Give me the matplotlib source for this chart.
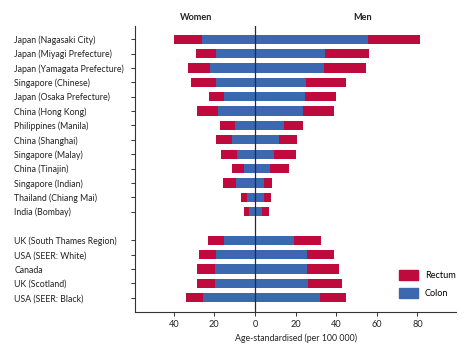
import matplotlib
matplotlib.use("Agg")
import matplotlib.pyplot as plt
import matplotlib.transforms as mtransforms
from matplotlib.patches import Patch

plt.rcParams["font.family"] = ["Lato", "DejaVu Sans"]

registries = [
    "Japan (Nagasaki City)",
    "Japan (Miyagi Prefecture)",
    "Japan (Yamagata Prefecture)",
    "Singapore (Chinese)",
    "Japan (Osaka Prefecture)",
    "China (Hong Kong)",
    "Philippines (Manila)",
    "China (Shanghai)",
    "Singapore (Malay)",
    "China (Tinajin)",
    "Singapore (Indian)",
    "Thailand (Chiang Mai)",
    "India (Bombay)",
    "UK (South Thames Region)",
    "USA (SEER: White)",
    "Canada",
    "UK (Scotland)",
    "USA (SEER: Black)",
]
# row slots, one empty slot between the two groups
positions = list(range(13)) + list(range(14, 19))

women_colon = [26.3, 19.2, 22.0, 19.2, 15.3, 18.2, 9.9, 11.2, 8.7, 5.4, 9.2, 3.8, 2.8,
               15.1, 19.2, 19.5, 19.5, 25.5]
women_total = [39.8, 29.2, 33.0, 31.7, 22.5, 28.4, 17.2, 19.4, 16.7, 11.3, 15.9, 6.9, 5.6,
               23.0, 27.6, 28.4, 28.4, 33.8]
men_colon = [55.7, 34.5, 34.0, 25.1, 24.8, 23.5, 14.3, 11.8, 9.4, 7.4, 4.6, 4.6, 3.4,
             19.0, 25.6, 25.6, 26.1, 32.2]
men_total = [81.3, 56.0, 54.5, 44.7, 39.7, 38.9, 23.8, 20.5, 20.2, 16.9, 8.5, 8.0, 6.9,
             32.7, 38.9, 41.5, 42.7, 45.0]

women_rectum = [t - c for t, c in zip(women_total, women_colon)]
men_rectum = [t - c for t, c in zip(men_total, men_colon)]

RED = "#BE0A3C"
BLUE = "#3B68AE"
FS = 6.3

fig = plt.figure(figsize=(4.74, 3.56), dpi=100)
ax = fig.add_axes([0.285, 0.1244, 0.677, 0.8036])

h = 0.65
neg_colon = [-v for v in women_colon]
ax.barh(positions, neg_colon, height=h, color=BLUE, linewidth=0)
ax.barh(positions, [-v for v in women_rectum], left=neg_colon, height=h, color=RED, linewidth=0)
ax.barh(positions, men_colon, height=h, color=BLUE, linewidth=0)
ax.barh(positions, men_rectum, left=men_colon, height=h, color=RED, linewidth=0)

ax.axvline(0, color="#1f2a44", linewidth=0.9)

ax.set_xlim(-59, 99)
ax.set_ylim(18.97, -0.95)
ax.set_yticks(positions)
ax.set_yticklabels(registries, fontsize=FS, color="#222222")
for lab in ax.get_yticklabels():
    lab.set_horizontalalignment("left")
xt = [-40, -20, 0, 20, 40, 60, 80]
ax.set_xticks(xt)
ax.set_xticklabels([str(abs(v)) for v in xt], fontsize=FS + 0.3, color="#222222")
ax.set_xlabel("Age-standardised (per 100 000)", fontsize=FS, color="#222222", labelpad=3)

for side in ["top", "right"]:
    ax.spines[side].set_visible(False)
for side in ["left", "bottom"]:
    ax.spines[side].set_linewidth(0.8)
    ax.spines[side].set_color("#333333")
ax.tick_params(axis="both", length=3, width=0.7, color="#333333", pad=3)
ax.tick_params(axis="y", pad=84)

trans = mtransforms.blended_transform_factory(ax.transData, ax.transAxes)
ax.text(-29, 1.03, "Women", transform=trans, ha="center", va="center",
        fontsize=6.6, fontweight="bold", color="#222222")
ax.text(53, 1.03, "Men", transform=trans, ha="center", va="center",
        fontsize=6.6, fontweight="bold", color="#222222")

handles = [Patch(color=RED, label="Rectum"), Patch(color=BLUE, label="Colon")]
ax.legend(handles=handles, loc="lower left", bbox_to_anchor=(0.796, 0.019), frameon=False,
          fontsize=6.6, handlelength=2.1, handleheight=1.2, labelspacing=0.9,
          handletextpad=0.75, borderpad=0.4)

fig.savefig("out.png", dpi=100)
